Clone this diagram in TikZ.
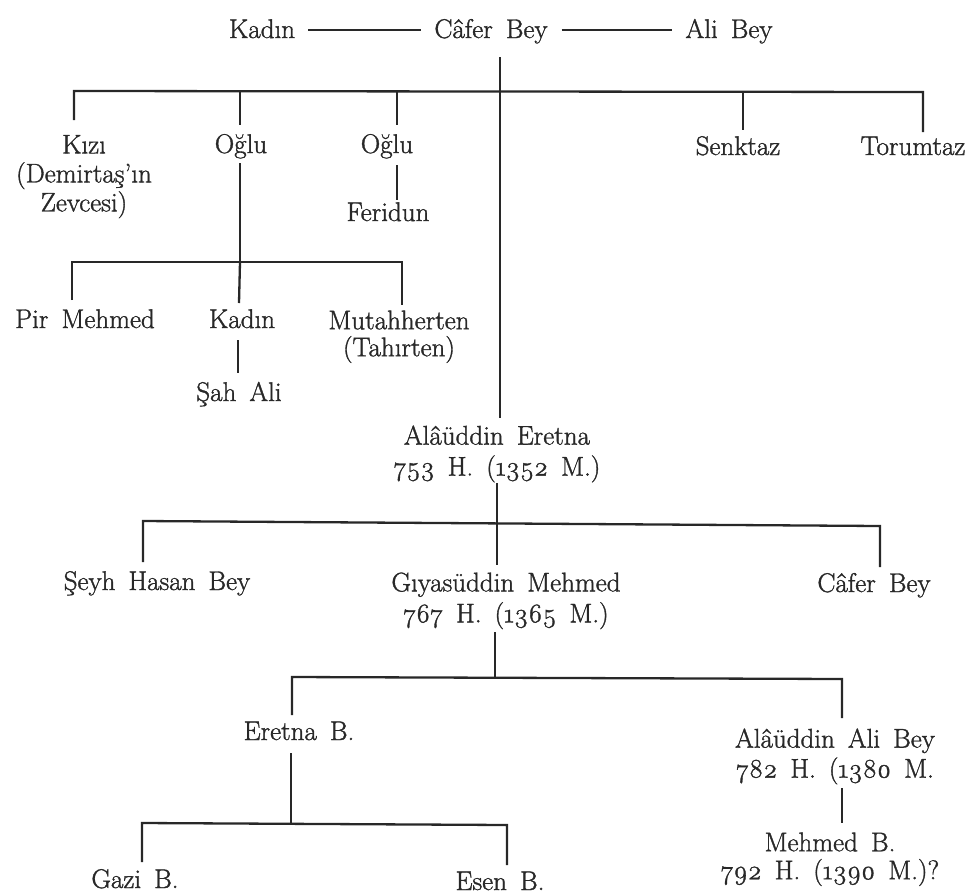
\documentclass[tikz,border=0pt]{standalone}
\usepackage{fontspec}
\setmainfont{Latin Modern Roman}[FakeBold=1.3, WordSpace=1.6]
\definecolor{ink}{RGB}{40,40,40}
\newcommand{\osn}[1]{\oldstylenums{#1}}
\begin{document}
\begin{tikzpicture}[x=1pt,y=-1pt,
  lbl/.style={inner sep=0pt, outer sep=0pt, font=\fontsize{27}{29}\selectfont, align=center, text=ink},
  link/.style={draw=ink, line width=2.3pt, line join=miter}]
\useasboundingbox (0,0) rectangle (975,895);

% ---------- generation 0 ----------
\node[lbl, anchor=base] (kadin)  at (262,38) {Kadın};
\node[lbl, anchor=base] (cafer)  at (491,38) {Câfer Bey};
\node[lbl, anchor=base] (alibey) at (729,38) {Ali Bey};
\draw[link] ([xshift=13pt,yshift=8pt]kadin.base east) -- ([xshift=-13pt,yshift=8pt]cafer.base west);
\draw[link] ([xshift=14pt,yshift=8pt]cafer.base east) -- ([xshift=-14pt,yshift=8pt]alibey.base west);

% ---------- generation 1 ----------
\node[lbl, anchor=north] (kizi) at (84,135) {Kızı\\(Demirtaş'ın\\Zevcesi)};
\node[lbl, anchor=base] (oglu1) at (241,153) {Oğlu};
\node[lbl, anchor=base] (oglu2) at (387,153) {Oğlu};
\node[lbl, anchor=base] (feridun) at (388,221) {Feridun};
\node[lbl, anchor=base] (senktaz) at (738,155) {Senktaz};
\node[lbl, anchor=base] (torumtaz) at (913,155) {Torumtaz};

\coordinate (cafer-d) at (500,57);
\coordinate (kizi-u) at (74,120);
\coordinate (bar1-l) at (74,91);
\coordinate (bar1-r) at (923,92);
\coordinate (tor-u) at (923,132);
\coordinate (o1-t) at (240,91);
\coordinate (o1-u) at (240,125);
\coordinate (o2-t) at (397,91);
\coordinate (o2-u) at (397,125);
\coordinate (sen-t) at (743,92);
\coordinate (sen-u) at (743,130);
\draw[link] (kizi-u) -- (bar1-l) -- (bar1-r) -- (tor-u);
\draw[link] (o1-t) -- (o1-u);
\draw[link] (o2-t) -- (o2-u);
\draw[link] (sen-t) -- (sen-u);
\coordinate (o2-d) at (397,165);
\coordinate (fer-u) at (397,200);
\draw[link] (o2-d) -- (fer-u);

% ---------- children of Oğlu ----------
\node[lbl, anchor=base] (pir) at (85,328) {Pir Mehmed};
\node[lbl, anchor=base] (kadin2) at (242,328) {Kadın};
\node[lbl, anchor=north] (mutah) at (399,310.5) {Mutahherten\\[-2pt](Tahırten)};
\node[lbl, anchor=base] (sahali) at (239,401) {Şah Ali};

\coordinate (o1-d) at (240,163);
\coordinate (bar2-m) at (240,262);
\coordinate (pir-u) at (72,300);
\coordinate (bar2-l) at (72,262);
\coordinate (bar2-r) at (402,262);
\coordinate (mut-u) at (402,305);
\coordinate (k2-u) at (239,303);
\coordinate (k2-d) at (238,340);
\coordinate (sah-u) at (238,373);
\draw[link] (o1-d) -- (bar2-m);
\draw[link] (pir-u) -- (bar2-l) -- (bar2-r) -- (mut-u);
\draw[link] (bar2-m) -- (k2-u);
\draw[link] (k2-d) -- (sah-u);

% ---------- Alâüddin Eretna ----------
\node[lbl, anchor=north] (eretna) at (497,425.5) {Alâüddin Eretna\\[2pt]\osn{753} H. (\osn{1352} M.)};
\coordinate (eretna-u) at (500,418);
\draw[link] (cafer-d) -- (eretna-u);

\node[lbl, anchor=base] (seyh) at (157,590) {Şeyh Hasan Bey};
\node[lbl, anchor=north] (giyas) at (506,572.5) {Gıyasüddin Mehmed\\[2pt]\osn{767} H. (\osn{1365} M.)};
\node[lbl, anchor=base] (cafer2) at (874,592) {Câfer Bey};

\coordinate (eretna-d) at (497,483);
\coordinate (giyas-u) at (497,565);
\coordinate (seyh-u) at (143,562);
\coordinate (bar3-l) at (143,521);
\coordinate (bar3-r) at (880,526);
\coordinate (caf2-u) at (880,567);
\draw[link] (eretna-d) -- (giyas-u);
\draw[link] (seyh-u) -- (bar3-l) -- (bar3-r) -- (caf2-u);

% ---------- children of Gıyasüddin ----------
\node[lbl, anchor=base] (eretnab) at (299,740) {Eretna B.};
\node[lbl, anchor=north] (alaali) at (835,728.5) {Alâüddin Ali Bey\\[1pt]\osn{782} H. (\osn{1380} M.};

\coordinate (giyas-d) at (495,632);
\coordinate (bar4-m) at (495,678);
\coordinate (erb-u) at (292,715);
\coordinate (bar4-l) at (292,677);
\coordinate (bar4-r) at (842,679);
\coordinate (ala-u) at (842,718);
\draw[link] (giyas-d) -- (bar4-m);
\draw[link] (erb-u) -- (bar4-l) -- (bar4-r) -- (ala-u);

% ---------- last generation ----------
\node[lbl, anchor=base] (gazi) at (135,888) {Gazi B.};
\node[lbl, anchor=base] (esen) at (500,890) {Esen B.};
\node[lbl, anchor=north] (mehmedb) at (830,832.5) {Mehmed B.\\[-1pt]\osn{792} H. (\osn{1390} M.)?};

\coordinate (erb-d) at (291,753);
\coordinate (bar5-m) at (291,824);
\coordinate (gazi-u) at (142,862);
\coordinate (bar5-l) at (142,823);
\coordinate (bar5-r) at (507,825);
\coordinate (esen-u) at (507,865);
\draw[link] (erb-d) -- (bar5-m);
\draw[link] (gazi-u) -- (bar5-l) -- (bar5-r) -- (esen-u);

\coordinate (ala-d) at (842,788);
\coordinate (meh-u) at (842,823);
\draw[link] (ala-d) -- (meh-u);
\end{tikzpicture}
\end{document}
